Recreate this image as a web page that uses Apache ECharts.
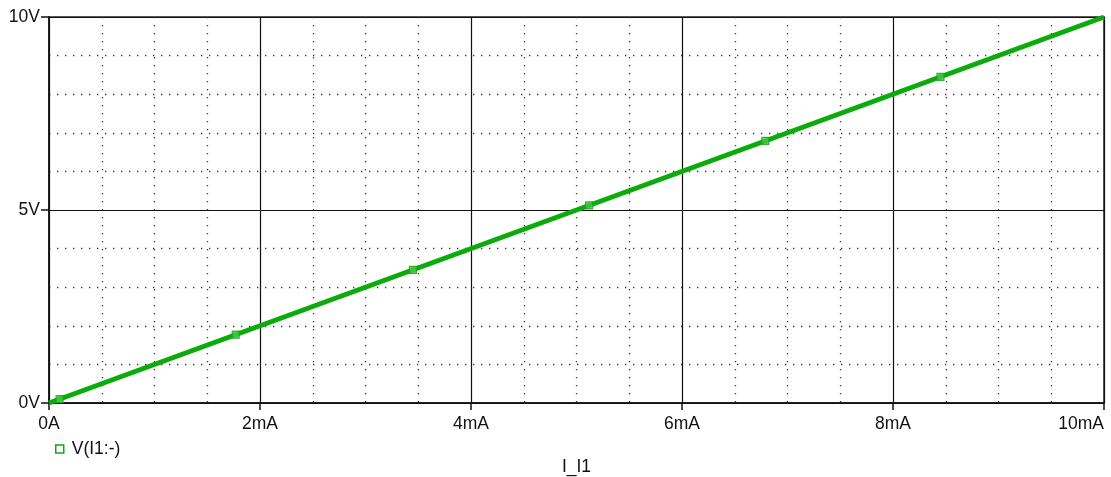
<!DOCTYPE html>
<html>
<head>
<meta charset="utf-8">
<script src="https://cdn.jsdelivr.net/npm/echarts@6/dist/echarts.min.js"></script>
<style>html,body{margin:0;padding:0;background:#fff;}#c{width:1111px;height:477px;}</style>
</head>
<body>
<div id="c"></div>
<script>
// Data (current in mA, voltage in V)
const currentMA = [0, 10];
const voltageV = [0, 10];
const markerI = [0.1, 1.77, 3.45, 5.12, 6.79, 8.45];
const markerV = [0.1, 1.77, 3.45, 5.12, 6.79, 8.45];
const xTicks = [0, 2, 4, 6, 8, 10];
const yTicks = [0, 5, 10];
const seriesName = 'V(I1:-)';
const xTitle = 'I_I1';

const green = '#0cab0c';
const font = 'Liberation Sans, Arial, sans-serif';
const chart = echarts.init(document.getElementById('c'));
chart.setOption({
  animation: false,
  grid: {left: 49, right: 7, top: 17, bottom: 74, containLabel: false, outerBoundsMode: 'none',
    show: true, borderColor: '#222', borderWidth: 1.5, backgroundColor: 'transparent'},
  legend: {
    left: 50, top: 435, itemWidth: 8, itemHeight: 8, itemGap: 10,
    textStyle: {fontFamily: font, fontSize: 17.5, color: '#111', padding: [0,0,0,3]},
    data: [{name: seriesName, icon: 'rect', itemStyle: {color: '#fff', borderColor: green, borderWidth: 1.5}}]
  },
  xAxis: {
    type: 'value', min: 0, max: 10, interval: 2,
    name: xTitle, nameLocation: 'middle', nameGap: 55,
    nameTextStyle: {fontFamily: font, fontSize: 17.5, color: '#111'},
    axisLine: {show: true, lineStyle: {color: '#111', width: 1.5}},
    axisTick: {show: true, length: 7, lineStyle: {color: '#111', width: 1.5}},
    axisLabel: {margin: 12, fontFamily: font, fontSize: 17.5, color: '#111', alignMaxLabel: 'right',
      formatter: v => xTicks.includes(v) ? (v === 0 ? '0A' : v + 'mA') : ''},
    splitLine: {show: true, lineStyle: {color: '#111', width: 1.2}},
    minorTick: {show: true, splitNumber: 4, length: 0},
    minorSplitLine: {show: true, lineStyle: {color: '#333', width: 1.3, type: [1.3, 6.7]}}
  },
  yAxis: {
    type: 'value', min: 0, max: 10, interval: 5,
    axisLine: {show: true, lineStyle: {color: '#111', width: 1.5}},
    axisTick: {show: true, length: 8, lineStyle: {color: '#111', width: 1.5}},
    axisLabel: {margin: 9, fontFamily: font, fontSize: 17.5, color: '#111',
      formatter: v => yTicks.includes(v) ? v + 'V' : ''},
    splitLine: {show: true, lineStyle: {color: '#111', width: 1.2}},
    minorTick: {show: true, splitNumber: 5, length: 0},
    minorSplitLine: {show: true, lineStyle: {color: '#333', width: 1.3, type: [1.3, 6.7]}}
  },
  series: [
    {
      name: seriesName, type: 'line', data: currentMA.map((x, i) => [x, voltageV[i]]),
      showSymbol: false, lineStyle: {color: green, width: 5}, itemStyle: {color: green}, z: 3
    },
    {
      name: seriesName, type: 'scatter', data: markerI.map((x, i) => [x, markerV[i]]),
      symbol: 'rect', symbolSize: 7,
      itemStyle: {color: '#4cc44c', borderColor: green, borderWidth: 1.2}, z: 4
    }
  ]
});
</script>
</body>
</html>
